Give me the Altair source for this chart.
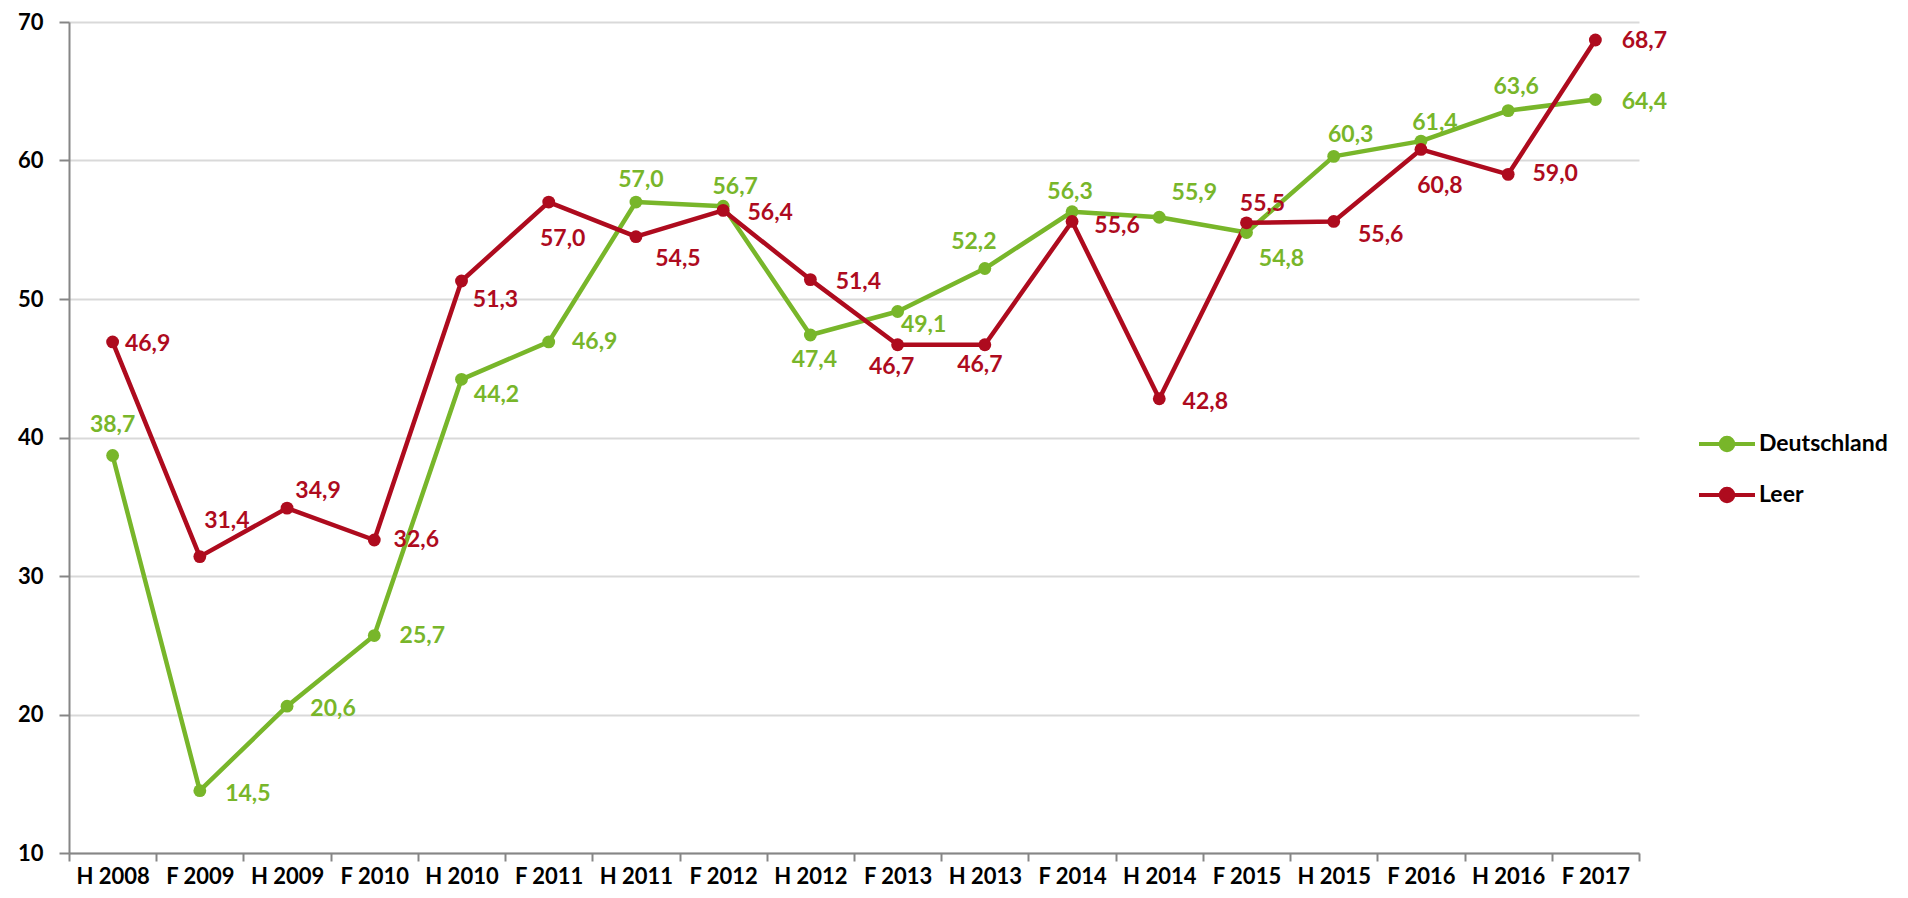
import altair as alt
import pandas as pd

periods = ["H 2008", "F 2009", "H 2009", "F 2010", "H 2010", "F 2011", "H 2011", "F 2012", "H 2012",
           "F 2013", "H 2013", "F 2014", "H 2014", "F 2015", "H 2015", "F 2016", "H 2016", "F 2017"]
deutschland = [38.7, 14.5, 20.6, 25.7, 44.2, 46.9, 57.0, 56.7, 47.4, 49.1, 52.2, 56.3, 55.9, 54.8, 60.3, 61.4, 63.6, 64.4]
leer = [46.9, 31.4, 34.9, 32.6, 51.3, 57.0, 54.5, 56.4, 51.4, 46.7, 46.7, 55.6, 42.8, 55.5, 55.6, 60.8, 59.0, 68.7]

# label offsets in pixels (style, not data)
de_dx = [0, 48, 46, 48, 35, 46, 5, 12, 4, 26, -11, -2, 35, 35, 17, 14, 8, 49]
de_dy = [-31, 3, 3, 0, 16, 0, -22, -19, 25, 14, -27, -20, -24, 26, -21, -18, -24, 2]
le_dx = [35, 27, 31, 42, 34, 14, 42, 47, 48, -6, -5, 45, 46, 16, 47, 19, 47, 49]
le_dy = [2, -36, -17, 0, 19, 37, 22, 3, 2, 22, 20, 5, 3, -19, 14, 37, 0, 1]

series_names = ["Deutschland", "Leer"]
colors = ["#78B62A", "#AE0B1E"]

rows = []
for name, vals, dxs, dys in [("Deutschland", deutschland, de_dx, de_dy), ("Leer", leer, le_dx, le_dy)]:
    for p, v, dx, dy in zip(periods, vals, dxs, dys):
        rows.append({"series": name, "period": p, "value": v, "dx": dx, "dy": dy})
df = pd.DataFrame(rows)

FONT = "Lato"

legend = alt.Legend(
    title=None,
    orient="none",
    legendX=1642,
    legendY=406,
    padding=0,
    symbolType="M-2,0H2M0.45,0A0.45,0.45,0,1,1,-0.45,0A0.45,0.45,0,1,1,0.45,0Z",
    symbolSize=784,
    symbolStrokeWidth=4,
    labelOffset=16,
    rowPadding=20,
    labelFont=FONT,
    labelFontSize=23,
    labelFontWeight="bold",
    labelColor="#000000",
    labelLimit=400,
)

base = alt.Chart(df).encode(
    x=alt.X("period:N", sort=periods,
            scale=alt.Scale(type="band", paddingInner=0, paddingOuter=0),
            axis=alt.Axis(title=None, labelAngle=0, labelFont=FONT, labelFontSize=22,
                          labelFontWeight="bold", labelColor="#000000", labelPadding=5,
                          labelOverlap=False, domainColor="#868686", domainWidth=2,
                          tickColor="#868686", tickWidth=2, tickSize=8, tickBand="extent",
                          grid=False)),
    y=alt.Y("value:Q", scale=alt.Scale(domain=[10, 70], nice=False, zero=False),
            axis=alt.Axis(title=None, values=[10, 20, 30, 40, 50, 60, 70], labelFont=FONT,
                          labelFontSize=22, labelFontWeight="bold", labelColor="#000000",
                          labelPadding=16, labelFlush=False, labelOverlap=False,
                          domainColor="#868686", domainWidth=2, tickColor="#868686",
                          tickWidth=2, tickSize=10, grid=True, gridColor="#D9D9D9",
                          gridWidth=2)),
    color=alt.Color("series:N", scale=alt.Scale(domain=series_names, range=colors), legend=legend),
)

lines = base.mark_line(strokeWidth=4.5, strokeJoin="round", strokeCap="round").encode(
    detail="series:N")
points = base.mark_point(filled=True, opacity=1, size=165)
labels = base.transform_calculate(
    label="replace(format(datum.value, '.1f'), '.', ',')"
).mark_text(
    font=FONT, fontSize=23, fontWeight="bold", align="center", baseline="middle",
    dx=alt.ExprRef("datum.dx"), dy=alt.ExprRef("datum.dy")
).encode(text="label:N")

chart = alt.layer(lines, points, labels).properties(
    width=1570, height=831,
    padding={"left": 61, "top": 14, "right": 255, "bottom": 37},
    autosize=alt.AutoSizeParams(type="none"),
).configure_view(strokeWidth=0)

chart.save("out.html", embed_options={"renderer": "svg", "actions": False})
